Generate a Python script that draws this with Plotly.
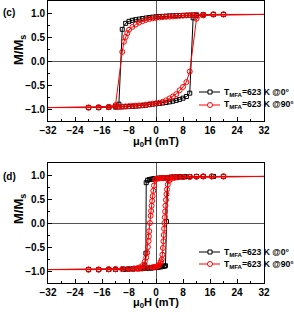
import plotly.graph_objects as go

# ---------------- Panel (c) data ----------------
c0_desc_H = [32, 20, 17, 14, 12, 11, 10, 9, 8, 7, 6, 5, 4, 3, 2, 1, 0, -1, -2, -3, -4, -5, -6, -7, -8, -9, -10,
             -11, -12, -14, -17, -20, -32]
c0_desc_M = [0.97, 0.97, 0.97, 0.965, 0.96, 0.958, 0.955, 0.953, 0.95, 0.948, 0.945, 0.942, 0.94, 0.935, 0.93,
             0.925, 0.92, 0.915, 0.905, 0.895, 0.885, 0.873, 0.862, 0.848, 0.826, 0.785, 0.66,
             -0.90, -0.94, -0.96, -0.965, -0.97, -0.97]
c0_asc_H = [-32, -20, -17, -14, -12, -11, -10, -9, -8, -7, -6, -5, -4, -3, -2, -1, 0, 1, 2, 3, 4, 5, 6, 7, 8, 9, 10,
            11, 12, 14, 17, 20, 32]
c0_asc_M = [-0.97, -0.97, -0.97, -0.965, -0.96, -0.958, -0.955, -0.952, -0.948, -0.944, -0.94, -0.935, -0.93,
            -0.92, -0.91, -0.90, -0.89, -0.885, -0.875, -0.865, -0.852, -0.838, -0.82, -0.80, -0.775, -0.74, -0.67,
            0.90, 0.95, 0.96, 0.97, 0.97, 0.97]

c90_desc_H = [32, 20, 17, 14, 12, 11, 10, 9, 8, 7, 6, 5, 4, 3, 2, 1, 0, -1, -2, -3, -4, -5, -6, -7, -8, -8.5, -9,
              -9.5, -10, -12, -14, -17, -20, -32]
c90_desc_M = [0.97, 0.97, 0.97, 0.965, 0.96, 0.958, 0.955, 0.95, 0.945, 0.94, 0.935, 0.93, 0.925, 0.92, 0.915,
              0.908, 0.90, 0.89, 0.875, 0.855, 0.83, 0.80, 0.76, 0.71, 0.65, 0.58, 0.50, 0.40, 0.19,
              -0.92, -0.955, -0.965, -0.97, -0.97]
c90_asc_H = [-32, -20, -17, -14, -12, -11, -10, -9, -8, -7, -6, -5, -4, -3, -2, -1, 0, 1, 2, 3, 4, 5, 6, 7, 8, 9,
             10, 12, 14, 17, 20, 32]
c90_asc_M = [-0.97, -0.97, -0.97, -0.965, -0.96, -0.955, -0.95, -0.945, -0.94, -0.935, -0.93, -0.925, -0.92,
             -0.91, -0.90, -0.89, -0.88, -0.87, -0.85, -0.82, -0.78, -0.74, -0.69, -0.61, -0.54, -0.44,
             -0.22, 0.88, 0.95, 0.97, 0.97, 0.97]

# ---------------- Panel (d) data ----------------
d0_desc_H = [32, 20, 17, 14, 12, 10, 8.5, 7, 6, 5, 4.5, 4, 3.5, 3, 2.5, 2, 1.5, 1, 0.5, 0, -0.5, -1, -1.5, -2,
             -2.5, -2.9, -3.0, -3.3, -3.6, -4.5, -5.5, -6.8, -8.2, -9.6, -12, -14, -17, -20, -32]
d0_desc_M = [0.97, 0.97, 0.97, 0.97, 0.97, 0.965, 0.963, 0.96, 0.958, 0.955, 0.953, 0.95, 0.948, 0.945, 0.942,
             0.94, 0.937, 0.934, 0.93, 0.927, 0.923, 0.918, 0.912, 0.905, 0.89, 0.84, -0.63, -0.88, -0.92,
             -0.94, -0.95, -0.955, -0.96, -0.963, -0.965, -0.967, -0.97, -0.97, -0.97]
d0_asc_H = [-32, -20, -17, -14, -12, -9.6, -8.2, -6.8, -5.5, -4.5, -4, -3.5, -3, -2.5, -2, -1.5, -1, -0.5, 0,
            0.5, 1, 1.5, 2, 2.5, 2.8, 3.1, 3.5, 4, 4.5, 5, 6, 7, 8.5, 10, 12, 14, 17, 20, 32]
d0_asc_M = [-0.97, -0.97, -0.97, -0.967, -0.965, -0.963, -0.96, -0.958, -0.955, -0.953, -0.95, -0.948, -0.945,
            -0.942, -0.94, -0.937, -0.934, -0.93, -0.927, -0.923, -0.918, -0.912, -0.905, -0.90, -0.89, 0.03,
            0.92, 0.94, 0.95, 0.955, 0.96, 0.963, 0.965, 0.967, 0.97, 0.97, 0.97, 0.97, 0.97]

d90_desc_H = [32, 20, 16.5, 14, 12, 10, 8, 6.5, 5.5, 5, 4, 3, 2.5, 2, 1.5, 1, 0.5, 0, -0.3, -0.6, -0.8, -1.0,
              -1.15, -1.3, -1.45, -1.6, -1.8, -2.0, -2.1, -2.2, -2.4, -2.6, -2.9, -3.3, -3.8, -4.7, -5.5, -6.5,
              -8, -10, -12, -14, -17, -20, -32]
d90_desc_M = [0.97, 0.97, 0.97, 0.97, 0.965, 0.962, 0.96, 0.955, 0.952, 0.95, 0.945, 0.94, 0.937, 0.935, 0.932,
              0.93, 0.925, 0.92, 0.90, 0.78, 0.67, 0.56, 0.46, 0.36, 0.25, 0.15, 0.0, -0.17, -0.28, -0.38,
              -0.50, -0.62, -0.72, -0.80, -0.87, -0.92, -0.94, -0.95, -0.955, -0.96, -0.963, -0.965, -0.97,
              -0.97, -0.97]
d90_asc_H = [-32, -20, -17, -14, -12, -10, -8, -6.5, -5.5, -5, -4, -3, -2, -1, -0.5, 0, 0.4, 0.7, 1.0, 1.3, 1.5,
             1.7, 1.9, 2.05, 2.2, 2.3, 2.4, 2.5, 2.6, 2.7, 2.8, 2.95, 3.1, 3.25, 3.5, 3.9, 4.5, 5.5, 6.5, 8, 10,
             12, 14, 16.5, 20, 32]
d90_asc_M = [-0.97, -0.97, -0.97, -0.965, -0.963, -0.96, -0.955, -0.95, -0.948, -0.945, -0.94, -0.935, -0.93,
             -0.92, -0.915, -0.91, -0.90, -0.89, -0.87, -0.83, -0.80, -0.76, -0.66, -0.52, -0.38, -0.25, -0.12,
             0.0, 0.12, 0.24, 0.36, 0.48, 0.60, 0.70, 0.80, 0.88, 0.92, 0.94, 0.95, 0.955, 0.96, 0.965, 0.97,
             0.97, 0.97, 0.97]

x_ticks = [-32, -24, -16, -8, 0, 8, 16, 24, 32]
y_ticks = [-1.0, -0.5, 0.0, 0.5, 1.0]
legend_names = ["<b>T<sub>MFA</sub>=623 K @0°</b>", "<b>T<sub>MFA</sub>=623 K @90°</b>"]
panel_labels = ["<b>(c)</b>", "<b>(d)</b>"]
x_title = "<b>μ<sub>0</sub>H (mT)</b>"
y_title = "<b>M/M<sub>s</sub></b>"

W, H = 294, 315
def px(x):
    return x / W
def py(y):
    return 1 - y / H

FONT = "Liberation Sans, Arial, sans-serif"
BLACK, RED = "black", "red"
fig = go.Figure()

def add_series(Hd, Md, Ha, Ma, color, symbol, size, xa, ya, name):
    Hl = Hd + Ha
    Ml = Md + Ma
    fig.add_trace(go.Scatter(x=Hl, y=Ml, mode="lines", line=dict(color=color, width=1),
                             xaxis=xa, yaxis=ya, showlegend=False, hoverinfo="skip"))
    Hm = [h for h in Hl if abs(h) <= 20]
    Mm = [m for h, m in zip(Hl, Ml) if abs(h) <= 20]
    fig.add_trace(go.Scatter(x=Hm, y=Mm, mode="markers", name=name,
                             marker=dict(symbol=symbol, size=size, color=color, line=dict(width=1)),
                             xaxis=xa, yaxis=ya, showlegend=False))

add_series(c0_desc_H, c0_desc_M, c0_asc_H, c0_asc_M, BLACK, "square-open", 4, "x", "y", legend_names[0])
add_series(c90_desc_H, c90_desc_M, c90_asc_H, c90_asc_M, RED, "circle-open", 5, "x", "y", legend_names[1])
add_series(d0_desc_H, d0_desc_M, d0_asc_H, d0_asc_M, BLACK, "square-open", 4, "x2", "y2", legend_names[0])
add_series(d90_desc_H, d90_desc_M, d90_asc_H, d90_asc_M, RED, "circle-open", 5, "x2", "y2", legend_names[1])

xdom = [px(48), px(264)]
common_x = dict(range=[-32, 32], tickvals=x_ticks, ticks="inside", ticklen=4, tickcolor="black",
                showline=True, linecolor="black", linewidth=1, mirror=True, showgrid=False,
                zeroline=True, zerolinecolor="#555", zerolinewidth=1, automargin=False,
                minor=dict(dtick=4, ticks="inside", ticklen=2, tickcolor="black", showgrid=False),
                tickfont=dict(family=FONT, size=10, color="black", weight="bold"))
common_y = dict(range=[-1.25, 1.25], tickvals=y_ticks, tickformat=".1f", ticks="inside", ticklen=4,
                tickcolor="black", showline=True, linecolor="black", linewidth=1, mirror=True, showgrid=False,
                zeroline=True, zerolinecolor="#555", zerolinewidth=1, automargin=False,
                minor=dict(dtick=0.25, ticks="inside", ticklen=2, tickcolor="black", showgrid=False),
                tickfont=dict(family=FONT, size=10, color="black", weight="bold"))

annotations = [
    dict(text=panel_labels[0], x=px(1), y=py(13), xref="paper", yref="paper", xanchor="left",
         yanchor="middle", showarrow=False, font=dict(family=FONT, size=10, color="black")),
    dict(text=panel_labels[1], x=px(1), y=py(176), xref="paper", yref="paper", xanchor="left",
         yanchor="middle", showarrow=False, font=dict(family=FONT, size=10, color="black")),
    dict(text=y_title, x=px(19), y=py(50), xref="paper", yref="paper", textangle=-90,
         xanchor="center", yanchor="middle", showarrow=False, font=dict(family=FONT, size=13, color="black")),
    dict(text=y_title, x=px(19), y=py(209), xref="paper", yref="paper", textangle=-90,
         xanchor="center", yanchor="middle", showarrow=False, font=dict(family=FONT, size=13, color="black")),
    dict(text=x_title, x=px(156), y=py(142), xref="paper", yref="paper",
         xanchor="center", yanchor="middle", showarrow=False, font=dict(family=FONT, size=11, color="black")),
    dict(text=x_title, x=px(156), y=py(303), xref="paper", yref="paper",
         xanchor="center", yanchor="middle", showarrow=False, font=dict(family=FONT, size=11, color="black")),
]
shapes = []
legend_rows = [(92, 105), (252, 264)]
for rows in legend_rows:
    for (ly, name, color, kind, sz) in [(rows[0], legend_names[0], BLACK, "rect", 4),
                                        (rows[1], legend_names[1], RED, "circle", 5)]:
        shapes.append(dict(type="line", xref="paper", yref="paper", x0=px(199), x1=px(220), y0=py(ly), y1=py(ly),
                           line=dict(color=color, width=1)))
        r = sz / 2
        shapes.append(dict(type=kind, xref="paper", yref="paper", x0=px(210 - r), x1=px(210 + r),
                           y0=py(ly + r), y1=py(ly - r), line=dict(color=color, width=1), fillcolor="white"))
        annotations.append(dict(text=name, x=px(222), y=py(ly), xref="paper", yref="paper", xanchor="left",
                                yanchor="middle", showarrow=False, font=dict(family=FONT, size=8.6, color="black")))

fig.update_layout(
    width=W, height=H, margin=dict(l=0, r=0, t=0, b=0, autoexpand=False),
    paper_bgcolor="white", plot_bgcolor="white", showlegend=False,
    xaxis=dict(domain=xdom, anchor="y", **common_x),
    yaxis=dict(domain=[py(121), py(1)], anchor="x", **common_y),
    xaxis2=dict(domain=xdom, anchor="y2", **common_x),
    yaxis2=dict(domain=[py(283), py(163)], anchor="x2", **common_y),
    annotations=annotations, shapes=shapes,
)

fig.write_html("out.html", config={"displayModeBar": False},
               post_script="document.body.style.margin='0';document.body.style.overflow='hidden';")
